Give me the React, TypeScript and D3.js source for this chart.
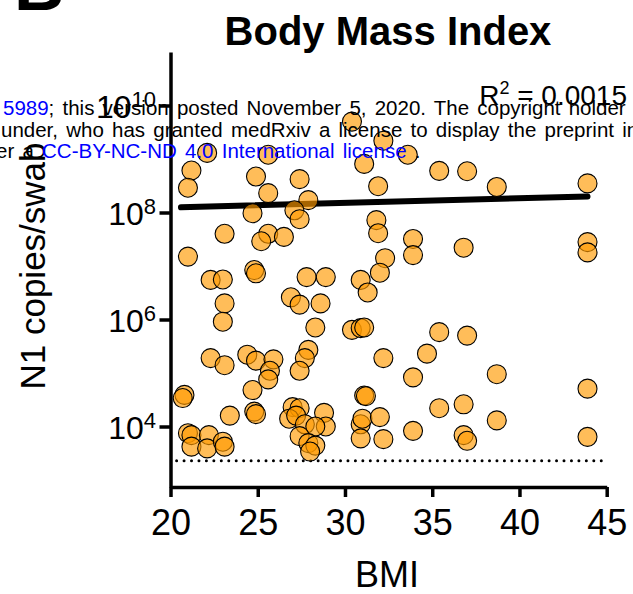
import React, { useRef, useEffect } from 'react';
import * as d3 from 'd3';

// BMI of each participant and the matching N1 copies per swab
const bmi = [
  30.4, 32.2, 33.6, 22.1, 25.6, 21.2, 21.0, 24.9, 25.6, 27.4,
  27.9, 27.1, 27.4, 24.7, 31.1, 31.9, 31.8, 31.9, 32.3, 32.0,
  23.1, 25.6, 26.5, 25.2, 21.0, 24.8, 24.9, 22.3, 23.0, 27.8,
  28.9, 30.9, 31.3, 26.9, 27.4, 28.6, 23.1, 23.0, 28.3, 30.4,
  30.9, 31.1, 22.3, 23.1, 24.4, 24.9, 25.9, 25.7, 25.6, 27.9,
  27.7, 27.4, 32.2, 24.7, 20.8, 20.7, 23.4, 24.8, 24.9, 31.1,
  31.2, 27.0, 27.4, 26.8, 27.2, 28.8, 28.9, 27.7, 28.3, 27.4,
  27.9, 28.3, 28.0, 30.9, 31.0, 32.0, 30.9, 32.2, 21.0, 21.2,
  21.2, 22.2, 22.1, 23.0, 23.1, 35.4, 37.0, 38.7, 43.9, 33.9,
  33.9, 36.8, 43.9, 43.9, 35.4, 37.0, 34.7, 33.9, 38.7, 43.9,
  35.4, 36.8, 33.9, 38.7, 36.8, 37.0, 43.9,
];

const copies = [
  5.0e9, 2.2e9, 1.2e9, 1.3e9, 1.2e9, 6.1e8, 2.9e8, 4.7e8, 2.3e8, 4.2e8,
  1.7e8, 1.1e8, 7.5e7, 9.7e7, 8.1e8, 3.1e8, 7.2e7, 4.1e7, 1.4e7, 7.5e6,
  4.0e7, 4.0e7, 3.5e7, 2.9e7, 1.5e7, 8.4e6, 7.3e6, 5.5e6, 5.6e6, 6.2e6,
  6.2e6, 5.5e6, 3.2e6, 2.6e6, 1.9e6, 2.0e6, 2.0e6, 9.1e5, 7.1e5, 6.4e5,
  6.9e5, 7.1e5, 1.9e5, 1.4e5, 2.2e5, 1.7e5, 1.8e5, 1.1e5, 7.6e4, 2.7e5,
  1.9e5, 1.1e5, 1.9e5, 4.8e4, 3.9e4, 3.4e4, 1.6e4, 1.9e4, 1.7e4, 3.8e4,
  3.7e4, 2.3e4, 2.2e4, 1.4e4, 1.6e4, 1.8e4, 1.0e4, 1.1e4, 1.0e4, 6.6e3,
  4.9e3, 4.4e3, 3.4e3, 1.1e4, 1.4e4, 1.5e4, 6.0e3, 5.8e3, 7.5e3, 6.9e3,
  4.2e3, 6.9e3, 3.9e3, 5.2e3, 4.2e3, 6.0e8, 5.9e8, 3.0e8, 3.5e8, 3.2e7,
  1.6e7, 2.2e7, 2.8e7, 1.8e7, 5.8e5, 5.0e5, 2.3e5, 8.3e4, 9.5e4, 5.1e4,
  2.2e4, 2.6e4, 8.3e3, 1.3e4, 6.9e3, 5.4e3, 6.4e3,
];

// fitted line end points and detection limit
const fitX = [20.6, 43.9];
const fitY = [1.25e8, 2.0e8];
const lodY = 2290;
const lodX = [20.35, 44.7];

const xTicks = [20, 25, 30, 35, 40, 45];
const yTicks = [1e4, 1e6, 1e8, 1e10];
const r2Label = '0.0015';

function BmiPlot() {
  const svgRef = useRef();

  useEffect(() => {
    const svg = d3.select(svgRef.current);
    svg.selectAll('*').remove();

    const width = 633;
    const height = 594;
    const font = "'Liberation Sans', Arial, sans-serif";

    svg.attr('width', width).attr('height', height);
    svg.append('rect').attr('width', width).attr('height', height).attr('fill', 'white');

    const x = d3.scaleLinear().domain([20, 45]).range([170.5, 606.7]);
    const y = d3.scaleLog().domain([740, 1e11]).range([487, 52]);

    // panel letter, cut at the top
    svg.append('text')
      .attr('x', 14).attr('y', 10)
      .attr('font-family', font).attr('font-weight', 'bold').attr('font-size', 70)
      .text('B');

    svg.append('text')
      .attr('x', 388).attr('y', 45)
      .attr('text-anchor', 'middle')
      .attr('font-family', font).attr('font-weight', 'bold').attr('font-size', 40)
      .text('Body Mass Index');

    // axes
    const xAxis = svg.append('g')
      .attr('transform', 'translate(0, 487)')
      .call(d3.axisBottom(x).tickValues(xTicks).tickSize(10).tickSizeOuter(0).tickFormat(d3.format('d')));
    xAxis.select('.domain').attr('stroke-width', 3.5);
    xAxis.selectAll('.tick line').attr('stroke-width', 3.5);
    xAxis.selectAll('.tick text')
      .attr('y', 48).attr('dy', 0)
      .attr('font-family', font).attr('font-size', 36).attr('fill', 'black');

    const yAxis = svg.append('g')
      .attr('transform', 'translate(170.5, 0)')
      .call(d3.axisLeft(y).tickValues(yTicks).tickSize(11).tickSizeOuter(0).tickFormat(() => ''));
    yAxis.select('.domain').attr('stroke-width', 3.5);
    yAxis.selectAll('.tick line').attr('stroke-width', 3.5);

    yTicks.forEach(v => {
      const t = svg.append('text')
        .attr('x', 156).attr('y', y(v) + 12)
        .attr('text-anchor', 'end')
        .attr('font-family', font).attr('font-size', 32);
      t.append('tspan').text('10');
      t.append('tspan').attr('font-size', 22).attr('dy', -11).text(String(Math.round(Math.log10(v))));
    });

    svg.append('text')
      .attr('x', 387).attr('y', 587)
      .attr('text-anchor', 'middle')
      .attr('font-family', font).attr('font-size', 36)
      .text('BMI');

    svg.append('text')
      .attr('transform', 'translate(45, 266) rotate(-90)')
      .attr('text-anchor', 'middle')
      .attr('font-family', font).attr('font-size', 35)
      .text('N1 copies/swab');

    // limit of detection
    svg.append('line')
      .attr('x1', x(lodX[0])).attr('x2', x(lodX[1]))
      .attr('y1', y(lodY)).attr('y2', y(lodY))
      .attr('stroke', 'black').attr('stroke-width', 3)
      .attr('stroke-linecap', 'round').attr('stroke-dasharray', '0 7.45');

    // regression line
    svg.append('path')
      .datum(fitX.map((d, i) => [d, fitY[i]]))
      .attr('d', d3.line().x(d => x(d[0])).y(d => y(d[1])))
      .attr('stroke', 'black').attr('stroke-width', 6)
      .attr('stroke-linecap', 'round').attr('fill', 'none');

    svg.append('g')
      .selectAll('circle')
      .data(bmi.map((d, i) => ({ bmi: d, copies: copies[i] })))
      .enter()
      .append('circle')
      .attr('cx', d => x(d.bmi))
      .attr('cy', d => y(d.copies))
      .attr('r', 9.5)
      .attr('fill', '#ff9900')
      .attr('fill-opacity', 0.65)
      .attr('stroke', 'black')
      .attr('stroke-width', 1.1);

    const r2 = svg.append('text')
      .attr('x', 627).attr('y', 105)
      .attr('text-anchor', 'end')
      .attr('font-family', font).attr('font-size', 28);
    r2.append('tspan').text('R');
    r2.append('tspan').attr('font-size', 18).attr('dy', -11).text('2');
    r2.append('tspan').attr('dy', 11).text(' = ' + r2Label);

    // preprint stamp lying over the figure
    const stamp = [
      { x: 3, y: 115, parts: [['5989', 'blue'], ['; this version posted November 5, 2020. The copyright holder for this preprint', 'black']] },
      { x: 1, y: 137, parts: [['under, who has granted medRxiv a license to display the preprint in perpetuity.', 'black']] },
      { x: -4, y: 158, parts: [['er a ', 'black'], ['CC-BY-NC-ND 4.0 International license', 'blue'], [' .', 'black']] },
    ];
    stamp.forEach(line => {
      const t = svg.append('text')
        .attr('x', line.x).attr('y', line.y)
        .attr('font-family', font).attr('font-size', 20.5)
        .attr('word-spacing', 2.5)
        .attr('xml:space', 'preserve')
        .style('white-space', 'pre');
      line.parts.forEach(p => t.append('tspan').attr('fill', p[1] === 'blue' ? '#0000ff' : 'black').text(p[0]));
    });
  }, []);

  return <svg ref={svgRef} style={{ position: 'absolute', left: 0, top: 0 }}></svg>;
}

export default function App() {
  return <BmiPlot />;
}
